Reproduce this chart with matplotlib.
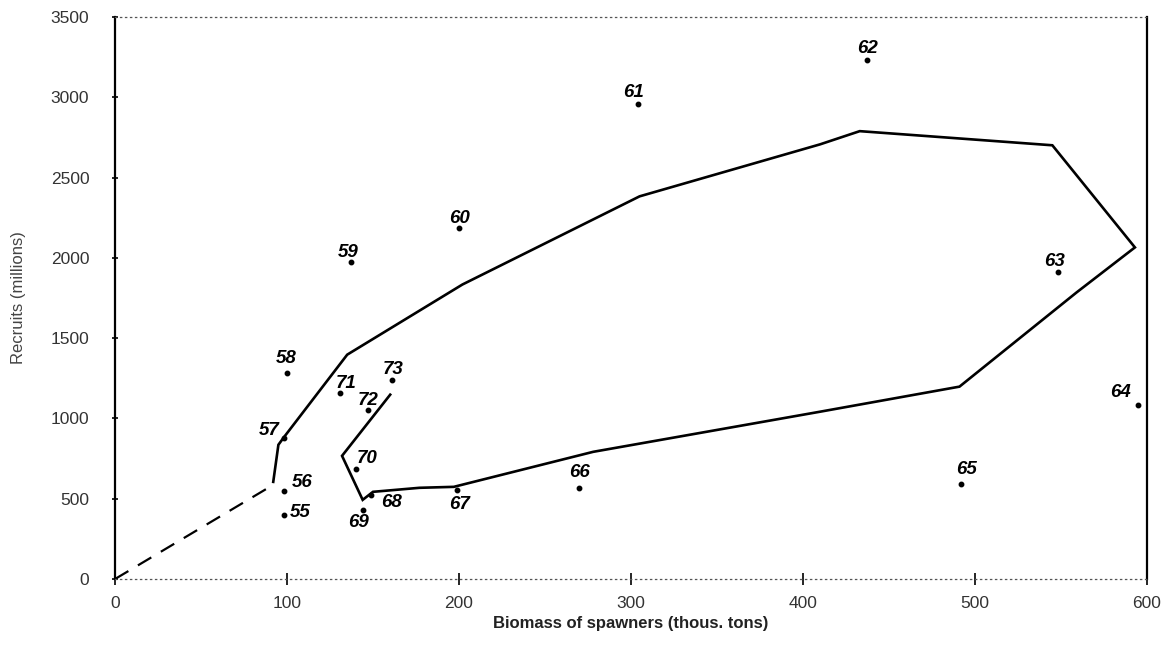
import matplotlib.pyplot as plt
import numpy as np

# year classes (19xx), spawning biomass and recruitment
years = ["55", "56", "57", "58", "59", "60", "61", "62", "63", "64",
         "65", "66", "67", "68", "69", "70", "71", "72", "73"]
spawners = [98, 98, 98, 100, 137, 200, 304, 437, 548, 595,
            492, 270, 199, 149, 144, 140, 131, 147, 161]
recruits = [400, 545, 880, 1285, 1977, 2183, 2957, 3231, 1909, 1085,
            592, 568, 555, 524, 430, 686, 1160, 1054, 1241]

# hand-drawn envelope around the stock-recruitment points
env_x = [92, 95, 98, 135, 202, 305, 410, 433, 545, 593, 559, 491,
         410, 278, 197, 177, 150, 144, 132, 160]
env_y = [605, 836, 880, 1397, 1834, 2383, 2707, 2789, 2701, 2065, 1784, 1198,
         1042, 792, 574, 568, 543, 493, 767, 1148]

# dashed extrapolation towards the origin
origin_x = [0, 88]
origin_y = [0, 561]

# label offsets from each point, in pixels
label_dx = [17, 19, -14, -1, -2, 1, -4, 1, -3, -18, 5, 0, 2, 20, -4, 11, 6, 0, 1]
label_dy = [2, 9, 7, 14, 9, 10, 12, 12, 11, 12, 14, 15, -15, -8, -13, 10, 9, 9, 10]

plt.rcParams['font.family'] = ['Liberation Sans', 'DejaVu Sans']

fig = plt.figure(figsize=(11.7, 6.53), dpi=100)
ax = fig.add_axes([0.0983, 0.1133, 0.8820, 0.8607])

ax.plot(origin_x, origin_y, color='black', lw=1.6, ls=(0, (7, 5)))
ax.plot(env_x, env_y, color='black', lw=1.9, solid_joinstyle='miter')

pts = np.array([spawners, recruits]).T
ax.plot(pts[:, 0], pts[:, 1], 'o', color='black', ms=3.2, ls='none')

for yr, x, y, dx, dy in zip(years, spawners, recruits, label_dx, label_dy):
    ax.annotate(yr, (x, y), xytext=(dx, dy), textcoords='offset pixels',
                ha='center', va='center', fontsize=13.5, fontweight='bold',
                fontstyle='italic', color='black')

ax.set_xlim(0, 600)
ax.set_ylim(0, 3500)
ax.set_xticks(np.arange(0, 601, 100))
ax.set_yticks(np.arange(0, 3501, 500))

for side in ['left', 'right']:
    ax.spines[side].set_color('black')
    ax.spines[side].set_linewidth(1.6)
for side in ['top', 'bottom']:
    ax.spines[side].set_color('#555555')
    ax.spines[side].set_linewidth(0.9)
    ax.spines[side].set_linestyle((0, (1, 3)))

ax.tick_params(axis='both', direction='inout', length=9, width=1.2,
               color='black', labelsize=12.5, labelcolor='#333333')
ax.tick_params(axis='y', length=5, pad=16)
ax.tick_params(axis='x', pad=8)

ax.set_xlabel("Biomass of spawners (thous. tons)", fontsize=12,
              fontweight='bold', color='#222222', labelpad=3)
ax.set_ylabel("Recruits (millions)", fontsize=12, color='#444444', labelpad=18)

fig.savefig("out.png", dpi=100)
